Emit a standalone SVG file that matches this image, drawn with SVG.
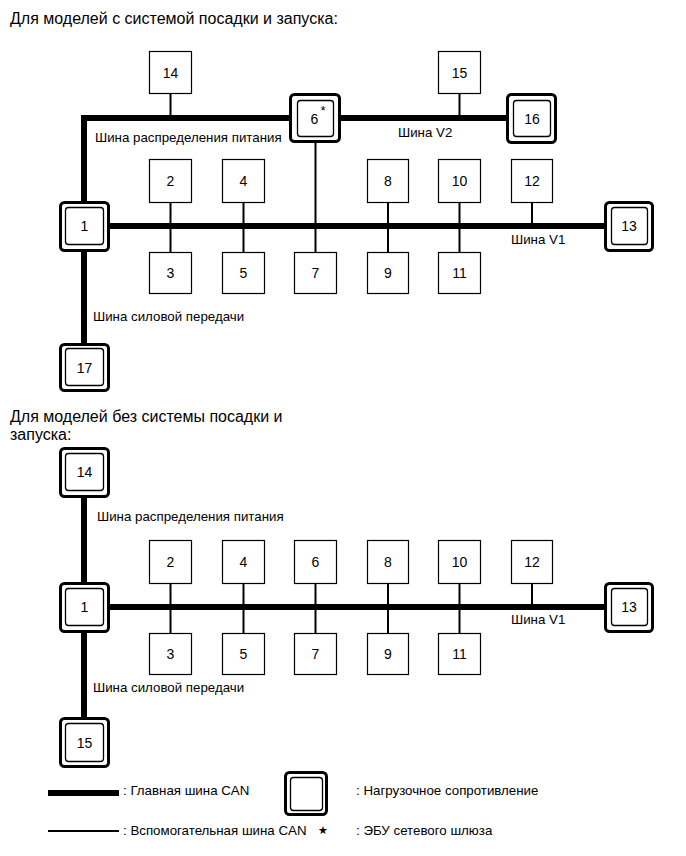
<svg xmlns="http://www.w3.org/2000/svg" width="686" height="856" viewBox="0 0 686 856">
<style>
text{font-family:"Liberation Sans",Arial,sans-serif;fill:#000}
.t{font-size:16px}
.l{font-size:13.3px}
.n{font-size:14px;text-anchor:middle;dominant-baseline:central}
.b{fill:#fff;stroke:#000;stroke-width:1.2}
.o{fill:#fff;stroke:#000;stroke-width:3}
.i{fill:#fff;stroke:#000;stroke-width:1.3}
.main{fill:none;stroke:#000;stroke-width:6;stroke-linejoin:miter}
.sub{fill:none;stroke:#000;stroke-width:2}
</style>
<rect width="686" height="856" fill="#fff"/>

<text class="t" x="10" y="24">Для моделей с системой посадки и запуска:</text>

<g id="connectors-top">
<path class="main" d="M84,202 V118 H290"/>
<path class="main" d="M340,118 H507"/>
<path class="main" d="M109,226 H605"/>
<path class="main" d="M84,251 V344"/>
<path class="sub" d="M170.5,94 V118"/>
<path class="sub" d="M459.5,94 V118"/>
<path class="sub" d="M170.5,202 V253"/>
<path class="sub" d="M243.5,202 V253"/>
<path class="sub" d="M315.5,142 V253"/>
<path class="sub" d="M388,202 V253"/>
<path class="sub" d="M459.5,202 V253"/>
<path class="sub" d="M532,202 V226"/>
</g>

<text class="l" x="95" y="142">Шина распределения питания</text>
<text class="l" x="398" y="137">Шина V2</text>
<text class="l" x="511" y="244">Шина V1</text>
<text class="l" x="93" y="321">Шина силовой передачи</text>

<g id="t14"><rect class="b" x="149.5" y="51.5" width="42" height="42"/><text class="n" x="170.5" y="72.5">14</text></g>
<g id="t15"><rect class="b" x="438.5" y="51.5" width="42" height="42"/><text class="n" x="459.5" y="72.5">15</text></g>
<g id="t6"><rect class="o" x="290.5" y="94.5" width="49" height="47" rx="4"/><rect class="i" x="297.5" y="100.5" width="36" height="36" rx="3"/><text class="n" x="314.5" y="119">6</text><text class="l" x="323" y="115" text-anchor="middle">*</text></g>
<g id="t16"><rect class="o" x="507.5" y="94.5" width="48" height="48" rx="4"/><rect class="i" x="513.5" y="100.5" width="37" height="36" rx="3"/><text class="n" x="532" y="118.5">16</text></g>
<g id="t1"><rect class="o" x="60.5" y="202.5" width="48" height="48" rx="4"/><rect class="i" x="65.5" y="207.5" width="38" height="37" rx="3"/><text class="n" x="84.5" y="226">1</text></g>
<g id="t13"><rect class="o" x="605.5" y="202.5" width="47" height="48" rx="4"/><rect class="i" x="611.5" y="207.5" width="36" height="37" rx="3"/><text class="n" x="629" y="226">13</text></g>
<g id="t17"><rect class="o" x="60.5" y="344.5" width="48" height="46" rx="4"/><rect class="i" x="65.5" y="348.5" width="38" height="37" rx="3"/><text class="n" x="84.5" y="367.5">17</text></g>
<g id="t2"><rect class="b" x="149.5" y="159.5" width="42" height="43"/><text class="n" x="170.5" y="181">2</text></g>
<g id="t4"><rect class="b" x="222.5" y="159.5" width="42" height="43"/><text class="n" x="243.5" y="181">4</text></g>
<g id="t8"><rect class="b" x="367.5" y="159.5" width="41" height="43"/><text class="n" x="388" y="181">8</text></g>
<g id="t10"><rect class="b" x="438.5" y="159.5" width="42" height="43"/><text class="n" x="459.5" y="181">10</text></g>
<g id="t12"><rect class="b" x="511.5" y="159.5" width="41" height="43"/><text class="n" x="532" y="181">12</text></g>
<g id="t3"><rect class="b" x="149.5" y="252.5" width="42" height="41"/><text class="n" x="170.5" y="273">3</text></g>
<g id="t5"><rect class="b" x="222.5" y="252.5" width="42" height="41"/><text class="n" x="243.5" y="273">5</text></g>
<g id="t7"><rect class="b" x="294.5" y="252.5" width="42" height="41"/><text class="n" x="315.5" y="273">7</text></g>
<g id="t9"><rect class="b" x="367.5" y="252.5" width="41" height="41"/><text class="n" x="388" y="273">9</text></g>
<g id="t11"><rect class="b" x="438.5" y="252.5" width="42" height="41"/><text class="n" x="459.5" y="273">11</text></g>

<text class="t" x="10" y="422">Для моделей без системы посадки и</text>
<text class="t" x="10" y="440">запуска:</text>

<g id="connectors-bottom">
<path class="main" d="M84,497 V584"/>
<path class="main" d="M109,607 H605"/>
<path class="main" d="M84,632 V718"/>
<path class="sub" d="M170.5,583 V634"/>
<path class="sub" d="M243.5,583 V634"/>
<path class="sub" d="M315.5,583 V634"/>
<path class="sub" d="M388,583 V634"/>
<path class="sub" d="M459.5,583 V634"/>
<path class="sub" d="M532,583 V607"/>
</g>

<text class="l" x="97" y="521">Шина распределения питания</text>
<text class="l" x="511" y="624">Шина V1</text>
<text class="l" x="93" y="692">Шина силовой передачи</text>

<g id="b14"><rect class="o" x="60.5" y="448.5" width="48" height="48" rx="4"/><rect class="i" x="65.5" y="453.5" width="38" height="37" rx="3"/><text class="n" x="84.5" y="472">14</text></g>
<g id="b1"><rect class="o" x="60.5" y="583.5" width="48" height="48" rx="4"/><rect class="i" x="65.5" y="588.5" width="38" height="37" rx="3"/><text class="n" x="84.5" y="607">1</text></g>
<g id="b13"><rect class="o" x="605.5" y="583.5" width="47" height="48" rx="4"/><rect class="i" x="611.5" y="588.5" width="36" height="37" rx="3"/><text class="n" x="629" y="607">13</text></g>
<g id="b15"><rect class="o" x="60.5" y="718.5" width="48" height="48" rx="4"/><rect class="i" x="65.5" y="723.5" width="38" height="38" rx="3"/><text class="n" x="84.5" y="742.5">15</text></g>
<g id="b2"><rect class="b" x="149.5" y="540.5" width="42" height="43"/><text class="n" x="170.5" y="562">2</text></g>
<g id="b4"><rect class="b" x="222.5" y="540.5" width="42" height="43"/><text class="n" x="243.5" y="562">4</text></g>
<g id="b6"><rect class="b" x="294.5" y="540.5" width="42" height="43"/><text class="n" x="315.5" y="562">6</text></g>
<g id="b8"><rect class="b" x="367.5" y="540.5" width="41" height="43"/><text class="n" x="388" y="562">8</text></g>
<g id="b10"><rect class="b" x="438.5" y="540.5" width="42" height="43"/><text class="n" x="459.5" y="562">10</text></g>
<g id="b12"><rect class="b" x="511.5" y="540.5" width="41" height="43"/><text class="n" x="532" y="562">12</text></g>
<g id="b3"><rect class="b" x="149.5" y="633.5" width="42" height="41"/><text class="n" x="170.5" y="654">3</text></g>
<g id="b5"><rect class="b" x="222.5" y="633.5" width="42" height="41"/><text class="n" x="243.5" y="654">5</text></g>
<g id="b7"><rect class="b" x="294.5" y="633.5" width="42" height="41"/><text class="n" x="315.5" y="654">7</text></g>
<g id="b9"><rect class="b" x="367.5" y="633.5" width="41" height="41"/><text class="n" x="388" y="654">9</text></g>
<g id="b11"><rect class="b" x="438.5" y="633.5" width="42" height="41"/><text class="n" x="459.5" y="654">11</text></g>

<g id="legend">
<line x1="48" y1="793" x2="119" y2="793" stroke="#000" stroke-width="6"/>
<text class="l" x="123" y="795">: Главная шина CAN</text>
<line x1="48" y1="831" x2="119" y2="831" stroke="#000" stroke-width="2"/>
<text class="l" x="123" y="835">: Вспомогательная шина CAN</text>
<text x="323" y="834" font-size="11" text-anchor="middle" style="font-family:'DejaVu Sans',sans-serif">★</text>
<rect class="o" x="285.5" y="772.5" width="41" height="42" rx="4"/>
<rect class="i" x="290.5" y="777.5" width="32" height="33" rx="3"/>
<text class="l" x="356" y="795">: Нагрузочное сопротивление</text>
<text class="l" x="356" y="835">: ЭБУ сетевого шлюза</text>
</g>
</svg>
